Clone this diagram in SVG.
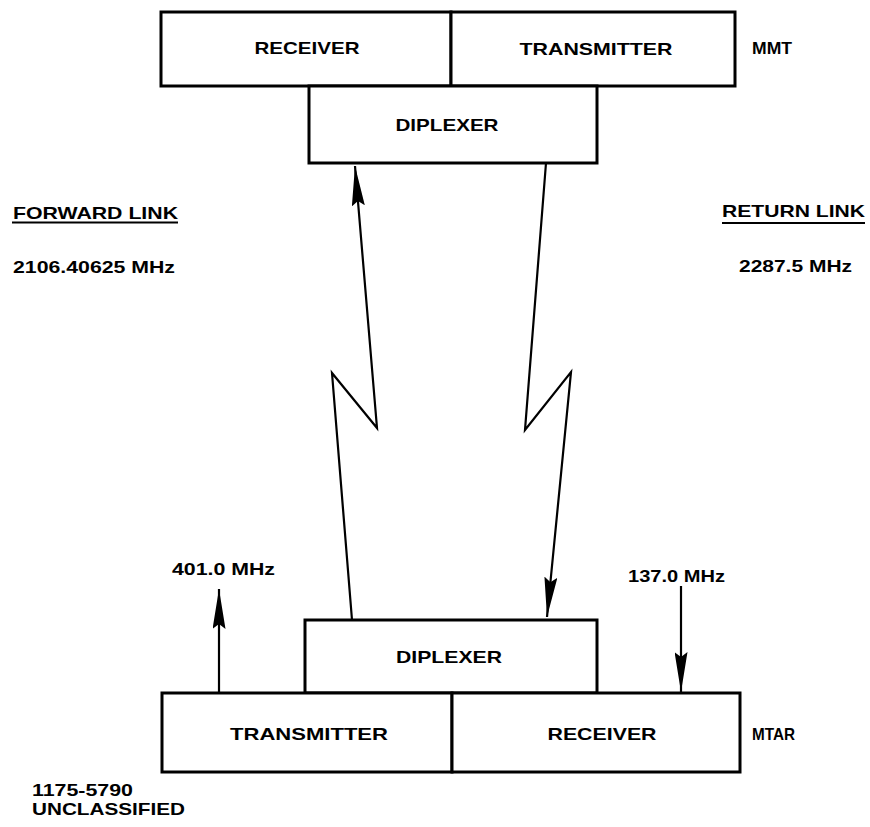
<svg xmlns="http://www.w3.org/2000/svg" width="870" height="827" viewBox="0 0 870 827">
<style>
.box{fill:#fff;stroke:#000;stroke-width:3}
.ln{fill:none;stroke:#000;stroke-width:2.2;stroke-linejoin:miter}
.t{font-family:"Liberation Sans",Arial,sans-serif;font-weight:bold;font-size:16.5px;fill:#000}
.c{text-anchor:middle}
</style>
<defs>
<marker id="ah" viewBox="0 0 40 13" refX="40" refY="6.5" markerWidth="40" markerHeight="13" markerUnits="userSpaceOnUse" orient="auto">
<path d="M0,0 L40,6.5 L0,13 L5,6.5 z" fill="#000"/>
</marker>
</defs>
<rect width="870" height="827" fill="#fff"/>
<g id="mmt-receiver"><rect class="box" x="161" y="12" width="290" height="74"/><text class="t c" x="307" y="54" textLength="105" lengthAdjust="spacingAndGlyphs">RECEIVER</text></g>
<g id="mmt-transmitter"><rect class="box" x="451" y="12" width="284" height="74"/><text class="t c" x="596" y="55" textLength="153" lengthAdjust="spacingAndGlyphs">TRANSMITTER</text></g>
<g id="mmt-diplexer"><rect class="box" x="309" y="86" width="288" height="77"/><text class="t c" x="447" y="131" textLength="103" lengthAdjust="spacingAndGlyphs">DIPLEXER</text></g>
<text class="t" x="752" y="54" textLength="40" lengthAdjust="spacingAndGlyphs">MMT</text>
<g id="labels">
<text class="t" x="13" y="219" textLength="165" lengthAdjust="spacingAndGlyphs">FORWARD LINK</text>
<line x1="12" y1="222.5" x2="178" y2="222.5" stroke="#000" stroke-width="2"/>
<text class="t" x="13" y="273" textLength="162" lengthAdjust="spacingAndGlyphs">2106.40625 MHz</text>
<text class="t" x="722" y="217" textLength="143" lengthAdjust="spacingAndGlyphs">RETURN LINK</text>
<line x1="722" y1="223" x2="865" y2="223" stroke="#000" stroke-width="2"/>
<text class="t" x="739" y="272" textLength="113" lengthAdjust="spacingAndGlyphs">2287.5 MHz</text>
<text class="t" x="172" y="575" textLength="103" lengthAdjust="spacingAndGlyphs">401.0 MHz</text>
<text class="t" x="628" y="582" textLength="97" lengthAdjust="spacingAndGlyphs">137.0 MHz</text>
<text class="t" x="32" y="796" textLength="101" lengthAdjust="spacingAndGlyphs">1175-5790</text>
<text class="t" x="32" y="815" textLength="153" lengthAdjust="spacingAndGlyphs">UNCLASSIFIED</text>
</g>
<g id="mtar-diplexer"><rect class="box" x="305" y="620" width="292" height="73"/><text class="t c" x="449" y="663" textLength="106" lengthAdjust="spacingAndGlyphs">DIPLEXER</text></g>
<g id="mtar-transmitter"><rect class="box" x="162" y="693" width="290" height="79"/><text class="t c" x="309" y="740" textLength="158" lengthAdjust="spacingAndGlyphs">TRANSMITTER</text></g>
<g id="mtar-receiver"><rect class="box" x="452" y="693" width="288" height="79"/><text class="t c" x="602" y="740" textLength="109" lengthAdjust="spacingAndGlyphs">RECEIVER</text></g>
<text class="t" x="752" y="740" textLength="43" lengthAdjust="spacingAndGlyphs">MTAR</text>
<g id="connectors">
<polyline class="ln" points="352,620 332,373 377,428 355,166" marker-end="url(#ah)"/>
<polyline class="ln" points="546,163 525,430 571,372 547,617" marker-end="url(#ah)"/>
<line class="ln" x1="219" y1="693" x2="219" y2="589" marker-end="url(#ah)"/>
<line class="ln" x1="681" y1="586" x2="681" y2="692" marker-end="url(#ah)"/>
</g>
</svg>
